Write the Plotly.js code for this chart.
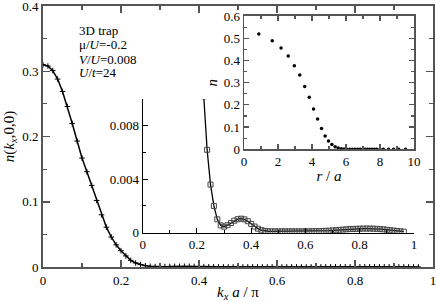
<!DOCTYPE html>
<html>
<head>
<meta charset="utf-8">
<script src="https://cdn.plot.ly/plotly-3.0.1.min.js"></script>
<style>html,body{margin:0;padding:0;background:#fff;}#chart{width:436px;height:302px;}</style>
</head>
<body>
<div id="chart"></div>
<script>
// momentum distribution n(kx,0,0)
const kx = [0,0.0125,0.025,0.0375,0.05,0.0625,0.075,0.0875,0.1,0.1125,0.125,0.1375,0.15,0.1625,0.175,0.1875,0.2,0.2125,0.225,0.2375,0.25,0.2625,0.275,0.2875,0.3,0.3125,0.325,0.3375,0.35,0.3625,0.375,0.3875,0.4,0.4125,0.425,0.4375,0.45,0.4625,0.475,0.4875,0.5,0.5125,0.525,0.5375,0.55,0.5625,0.575,0.5875,0.6,0.6125,0.625,0.6375,0.65,0.6625,0.675,0.6875,0.7,0.7125,0.725,0.7375,0.75,0.7625,0.775,0.7875,0.8,0.8125,0.825,0.8375,0.85,0.8625,0.875,0.8875,0.9,0.9125,0.925,0.9375,0.95,0.9625];
const nk = [0.310,0.308,0.301,0.288,0.269,0.246,0.220,0.193,0.167,0.146,0.125,0.102,0.080,0.061,0.046,0.034,0.025,0.017,0.0102,0.0062,0.0036,0.0020,0.0010,0.00055,0.00045,0.00056,0.00072,0.00090,0.00101,0.00105,0.00100,0.00086,0.00066,0.00046,0.00030,0.00019,0.00014,0.00011,0.00010,0.00010,0.00010,0.00010,0.00010,0.00010,0.00010,0.00010,0.00010,0.00010,0.00010,0.00010,0.00011,0.00011,0.00012,0.00013,0.00014,0.00015,0.00017,0.00019,0.00021,0.00023,0.00025,0.00027,0.00028,0.00029,0.00030,0.00031,0.00031,0.00031,0.00030,0.00029,0.00027,0.00025,0.00022,0.00019,0.00016,0.00013,0.00010,0.00008];
// real-space density profile n(r)
const rA = [0.87,1.66,2.18,2.6,2.96,3.28,3.57,3.84,4.09,4.33,4.56,4.77,4.97,5.17,5.36,5.54,5.72,5.89,6.06,6.22,6.38,6.53,6.68,6.83,6.98,7.12,7.26,7.4,7.53,7.66,7.8,8.0,8.2,8.5,8.8,9.1,9.5];
const nr = [0.519,0.489,0.456,0.42,0.376,0.334,0.283,0.234,0.181,0.136,0.094,0.060,0.037,0.022,0.012,0.006,0.003,0.001,0,0,0,0,0,0,0,0,0,0,0,0,0,0,0,0,0,0,0];
const mainXTicks = [0,0.2,0.4,0.6,0.8,1];
const notes = ["3D trap","μ/<i>U</i>=-0.2","<i>V</i>/<i>U</i>=0.008","<i>U</i>/<i>t</i>=24"];

const FONT = "Liberation Serif";
const frame = '#555';

const traces = [
  {x:kx, y:nk, xaxis:'x', yaxis:'y', mode:'lines+markers', type:'scatter',
   line:{color:'#000', width:1.5}, marker:{symbol:'cross-thin-open', size:4, color:'#000', line:{width:1, color:'#000'}}},
  {x:kx, y:nk, xaxis:'x2', yaxis:'y2', mode:'lines+markers', type:'scatter',
   line:{color:'#000', width:1.3}, marker:{symbol:'square-open', size:5, color:'#444', line:{width:1, color:'#555'}}},
  {x:rA, y:nr, xaxis:'x3', yaxis:'y3', mode:'markers', type:'scatter',
   marker:{symbol:'circle', size:3.5, color:'#000'}}
];

function ax(o){
  return Object.assign({showgrid:false, zeroline:false, showline:true, ticks:'inside', ticklabeloverflow:'allow',
    tickfont:{family:FONT, size:13, color:'#000'}}, o);
}

const annotations = notes.map((t,i)=>({
  text:t, xref:'paper', yref:'paper', x:0.087, y:[0.9054,0.8506,0.7958,0.746][i],
  xanchor:'left', yanchor:'middle', showarrow:false, font:{family:FONT, size:13, color:'#000'}
}));

const layout = {
  width:436, height:302, margin:{l:43, r:3, t:6, b:35},
  paper_bgcolor:'#fff', plot_bgcolor:'rgba(0,0,0,0)', showlegend:false,
  font:{family:FONT, size:13, color:'#000'},
  xaxis: ax({domain:[0,1], anchor:'y', range:[0,1], tickvals:mainXTicks, ticklen:7, tickwidth:1.5, tickcolor:frame,
    linewidth:2, linecolor:frame, mirror:'allticks',
    minor:{dtick:0.1, ticklen:4, tickcolor:frame, ticks:'inside', tickwidth:1.2},
    title:{text:'<i>k<sub>x</sub> a</i> / π', font:{family:FONT, size:15}, standoff:4}}),
  yaxis: ax({domain:[0,1], anchor:'x', range:[0,0.4], dtick:0.1, ticklen:7, tickwidth:1.5, tickcolor:frame,
    linewidth:2, linecolor:frame, mirror:'allticks',
    minor:{dtick:0.05, ticklen:4, tickcolor:frame, ticks:'inside', tickwidth:1.2},
    title:{text:'<i>n</i>(<i>k<sub>x</sub></i>,0,0)', font:{family:FONT, size:15}, standoff:4}}),
  xaxis2: ax({domain:[0.2556,0.9513], anchor:'y2', range:[0,1], dtick:0.2, ticklen:5, tickcolor:'#000',
    linewidth:1, linecolor:'#000', minor:{dtick:0.1, ticklen:3, ticks:'inside', tickcolor:'#000'}}),
  yaxis2: ax({domain:[0.1314,0.6437], anchor:'x2', range:[0,0.01], tickvals:[0,0.004,0.008], ticktext:['0','0.004','0.008'], ticklen:5, tickcolor:'#000',
    linewidth:1, linecolor:'#000', minor:{tickvals:[0.002,0.006,0.01], ticklen:3, ticks:'inside', tickcolor:'#000'}}),
  xaxis3: ax({domain:[0.5154,0.9513], anchor:'y3', range:[0,10], dtick:2, ticklen:5, tickcolor:frame, tickwidth:1.2,
    linewidth:1.5, linecolor:frame, mirror:'allticks', minor:{dtick:1, ticklen:3, ticks:'inside', tickcolor:frame},
    title:{text:'<i>r</i> / <i>a</i>', font:{family:FONT, size:15}, standoff:2}}),
  yaxis3: ax({domain:[0.451,0.9617], anchor:'x3', range:[0,0.6], dtick:0.1, ticklen:5, tickcolor:frame, tickwidth:1.2,
    linewidth:1.5, linecolor:frame, mirror:'allticks', minor:{dtick:0.05, ticklen:3, ticks:'inside', tickcolor:frame},
    title:{text:'<i>n</i>', font:{family:FONT, size:15}, standoff:2}}),
  annotations: annotations
};

Plotly.newPlot('chart', traces, layout, {staticPlot:true, displayModeBar:false});
</script>
</body>
</html>
